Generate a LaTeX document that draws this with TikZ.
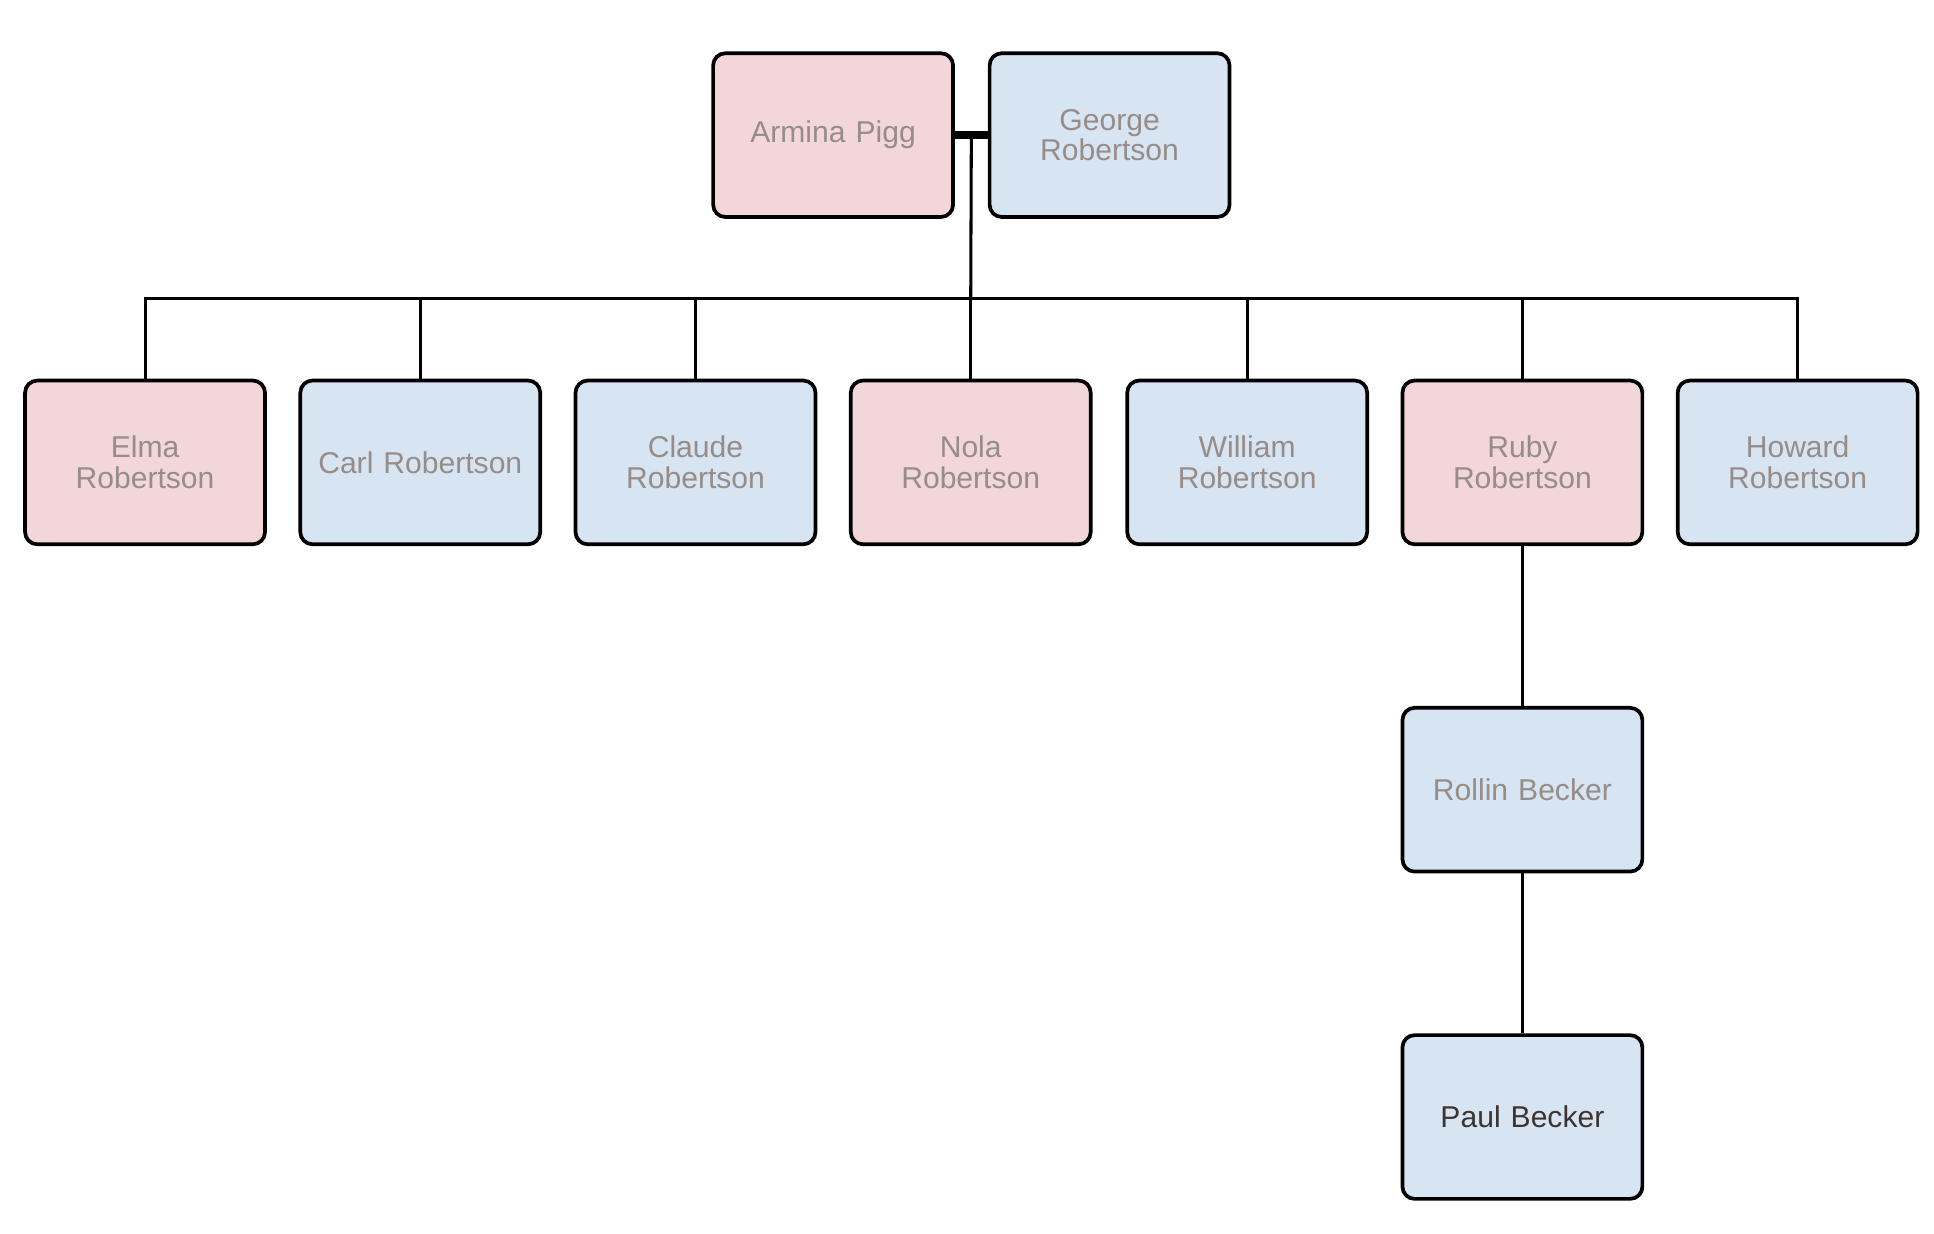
\documentclass[tikz,border=0pt]{standalone}
\usepackage{fontspec}
\setmainfont{Liberation Sans}
\usetikzlibrary{positioning,calc}
\definecolor{pinkfill}{RGB}{242,214,218}
\definecolor{bluefill}{RGB}{215,228,242}
\definecolor{greytext}{RGB}{150,141,136}
\definecolor{darktext}{RGB}{60,52,48}
\tikzset{
	person/.style={draw=black, line width=0.85pt, rounded corners=2.8pt,
		minimum width=1.78cm, minimum height=1.32cm, text width=1.7cm, align=center,
		font=\fontsize{6.9}{7}\selectfont, text=greytext},
	female/.style={person, fill=pinkfill},
	male/.style={person, fill=bluefill},
	link/.style={line width=0.7pt, black},
}
\begin{document}
\begin{tikzpicture}[x=0.01cm, y=-0.01cm]
		\useasboundingbox (0, 0) rectangle (1560, 995);

		\node[female]	(armina)	at (672, 109)	{Armina Pigg};
		\node[male]		(george)	at (895, 109)	{George\\Robertson};

		\node[female]	(elma)		at (117, 373)	{Elma\\Robertson};
		\node[male]		(carl)		at (339, 373)	{Carl Robertson};
		\node[male]		(claude)	at (561, 373)	{Claude\\Robertson};
		\node[female]	(nola)		at (783, 373)	{Nola\\Robertson};
		\node[male]		(william)	at (1006, 373)	{William\\Robertson};
		\node[female]	(ruby)		at (1228, 373)	{Ruby\\Robertson};
		\node[male]		(howard)	at (1450, 373)	{Howard\\Robertson};

		\node[male]		(rollin)	at (1228, 637)	{Rollin Becker};
		\node[male, text=darktext]	(paul)	at (1228, 901)	{Paul Becker};

		\draw[line width=1.7pt]	(armina.east) -- (george.west);
		\coordinate (union) at ($(armina.east)!0.5!(george.west)$);
		\coordinate (bar) at (783, 241);
		\draw[link]	(union) -- (bar);
		\draw[link]	(elma.north) |- (bar) -| (howard.north);
		\foreach \kid in {carl, claude, nola, william, ruby}
			\draw[link]	(\kid.north) -- (\kid.north |- bar);

		\draw[link]	(ruby) -- (rollin);
		\draw[link]	(rollin) -- (paul);
	\end{tikzpicture}
\end{document}
